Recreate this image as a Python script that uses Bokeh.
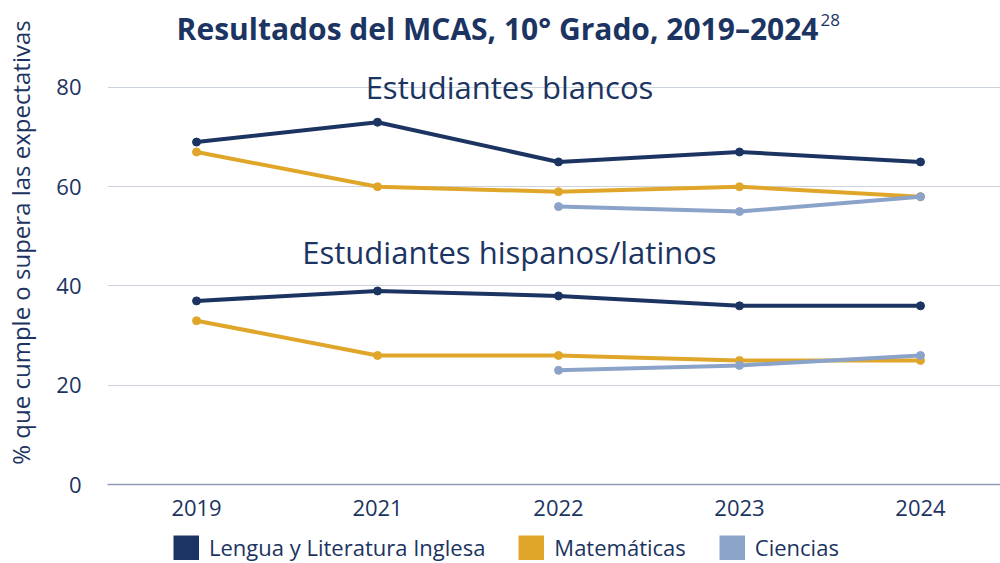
from bokeh.plotting import figure
from bokeh.layouts import column
from bokeh.models import (ColumnDataSource, FixedTicker, Label, Legend,
                          LegendItem, Range1d)
from bokeh.embed import file_html
from bokeh.resources import INLINE

# ---- data ----
years = ["2019", "2021", "2022", "2023", "2024"]
nan = float("nan")
white_ela = [69, 73, 65, 67, 65]
white_math = [67, 60, 59, 60, 58]
white_sci = [nan, nan, 56, 55, 58]
hisp_ela = [37, 39, 38, 36, 36]
hisp_math = [33, 26, 26, 25, 25]
hisp_sci = [nan, nan, 23, 24, 26]
series_names = ["Lengua y Literatura Inglesa", "Matemáticas", "Ciencias"]
y_ticks = [0, 20, 40, 60, 80]

NAVY = "#1b3461"
GOLD = "#e0a62a"
LBLUE = "#8ba3c9"
colors = [NAVY, GOLD, LBLUE]
FONT = "Open Sans"

x = list(range(len(years)))

p = figure(width=1000, height=530, output_backend="svg", toolbar_location=None,
           x_range=Range1d(-0.492, 4.442), y_range=Range1d(0, 97.53),
           min_border_left=107, min_border_right=0, min_border_top=0,
           min_border_bottom=46)
p.outline_line_color = None
p.background_fill_color = "white"
p.border_fill_color = "white"

groups = [
    [white_ela, white_math, white_sci],
    [hisp_ela, hisp_math, hisp_sci],
]
for grp in groups:
    for vals, c in zip(grp, colors):
        src = ColumnDataSource(dict(x=x, y=vals))
        p.line("x", "y", source=src, line_color=c, line_width=4)
        p.scatter("x", "y", source=src, size=8, fill_color=c, line_color=c)

# axes
p.xaxis.ticker = FixedTicker(ticks=x)
p.xaxis.major_label_overrides = {i: yr for i, yr in enumerate(years)}
p.xaxis.major_label_text_font = FONT
p.xaxis.major_label_text_font_size = "22px"
p.xaxis.major_label_text_color = NAVY
p.xaxis.major_label_standoff = 9
p.xaxis.axis_line_color = "#8e9db8"
p.xaxis.axis_line_width = 1.5
p.xaxis.major_tick_line_color = None
p.xaxis.minor_tick_line_color = None

p.yaxis.ticker = FixedTicker(ticks=y_ticks)
p.yaxis.major_label_text_font = FONT
p.yaxis.major_label_text_font_size = "22px"
p.yaxis.major_label_text_color = NAVY
p.yaxis.major_label_standoff = 20
p.yaxis.axis_line_color = None
p.yaxis.major_tick_line_color = None
p.yaxis.minor_tick_line_color = None
p.yaxis.axis_label = "% que cumple o supera las expectativas"
p.yaxis.axis_label_text_font = FONT
p.yaxis.axis_label_text_font_size = "24px"
p.yaxis.axis_label_text_font_style = "normal"
p.yaxis.axis_label_text_color = NAVY
p.yaxis.axis_label_standoff = 16

p.xgrid.grid_line_color = None
p.ygrid.ticker = FixedTicker(ticks=y_ticks)
p.ygrid.grid_line_color = "#cdd3de"
p.ygrid.grid_line_width = 1

# title
p.add_layout(Label(x=3.4365, y=91.9, text="Resultados del MCAS, 10° Grado, 2019–2024",
                   text_align="right", text_baseline="middle",
                   text_font=FONT, text_font_style="bold", text_font_size="30px",
                   text_color=NAVY))
p.add_layout(Label(x=3.448, y=93.7, text="28", text_align="left",
                   text_baseline="middle", text_font=FONT, text_font_size="17px",
                   text_color=NAVY))

# group annotations
p.add_layout(Label(x=1.729, y=80.0, text="Estudiantes blancos",
                   text_align="center", text_baseline="middle",
                   text_font=FONT, text_font_size="31px", text_color=NAVY))
p.add_layout(Label(x=1.729, y=46.75, text="Estudiantes hispanos/latinos",
                   text_align="center", text_baseline="middle",
                   text_font=FONT, text_font_size="31px", text_color=NAVY))

# ---- legend strip below the chart ----
lg = figure(width=1000, height=33, output_backend="svg", toolbar_location=None,
            x_axis_type=None, y_axis_type=None,
            x_range=Range1d(0, 1), y_range=Range1d(0, 1),
            min_border_left=0, min_border_right=0, min_border_top=0,
            min_border_bottom=0)
lg.outline_line_color = None
lg.grid.visible = False
items = []
for name, c in zip(series_names, colors):
    proxy = ColumnDataSource(dict(x=[nan], y=[nan]))
    r = lg.line("x", "y", source=proxy, line_color=c, line_width=25,
                line_cap="butt")
    items.append(LegendItem(label=name, renderers=[r]))
legend = Legend(items=items, orientation="horizontal", location=(66, 1),
                glyph_width=26, glyph_height=25, label_standoff=10, spacing=33,
                padding=0, margin=0, border_line_color=None,
                background_fill_alpha=0,
                label_text_font=FONT, label_text_font_size="22px",
                label_text_color=NAVY)
lg.add_layout(legend, "center")

layout = column(p, lg, spacing=0)
open("out.html", "w").write(file_html(layout, INLINE))
